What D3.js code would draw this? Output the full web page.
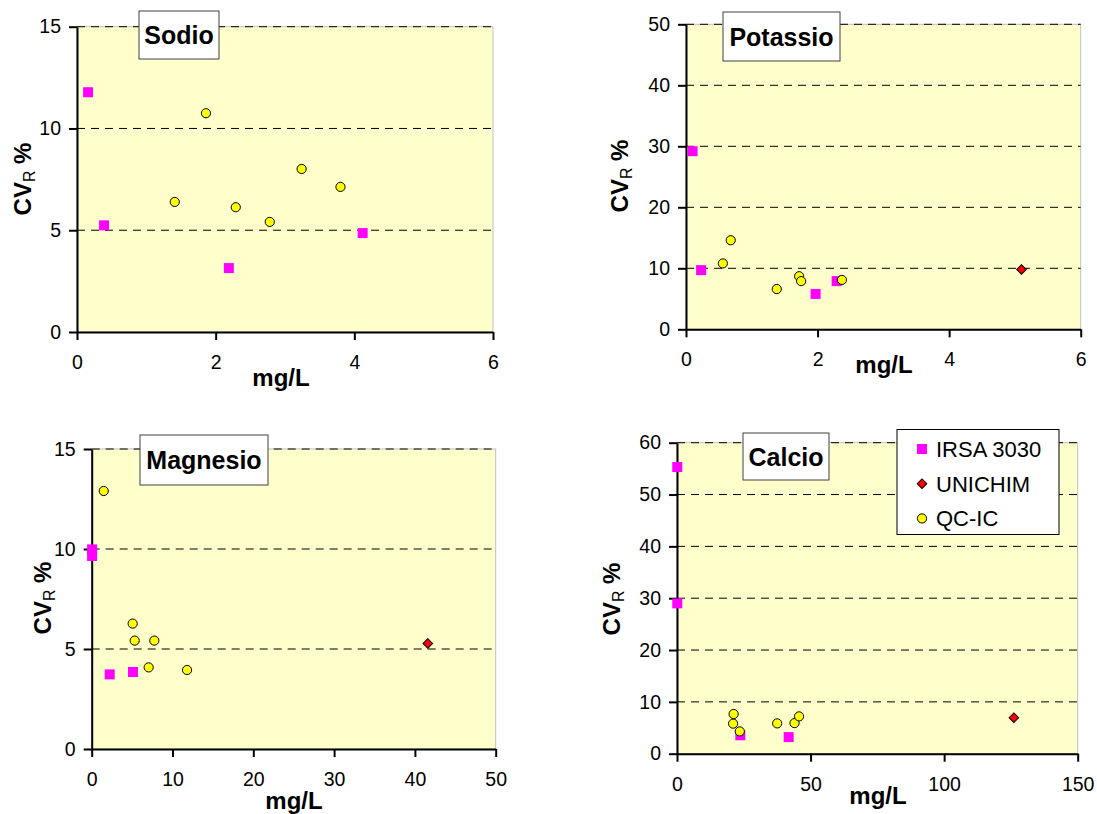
<!DOCTYPE html>
<html>
<head>
<meta charset="utf-8">
<script src="https://cdn.jsdelivr.net/npm/d3@7/dist/d3.min.js"></script>
<style>
  body { margin: 0; background: #fff; }
  svg { font-family: Arial, "Liberation Sans", sans-serif; }
  .axis path, .axis line { stroke: #000; stroke-width: 2px; }
  .axis text { font-size: 19.5px; fill: #000; }
  .grid { stroke: #000; stroke-width: 1px; stroke-dasharray: 8,6; }
</style>
</head>
<body>
<div id="chart"></div>
<script>
// titles of the four panels
var elements = ["Sodio", "Potassio", "Magnesio", "Calcio"];
var series = ["IRSA 3030", "UNICHIM", "QC-IC"];

// tick labels
var sodioXTicks = [0, 2, 4, 6], sodioYTicks = [0, 5, 10, 15];
var potassioXTicks = [0, 2, 4, 6], potassioYTicks = [0, 10, 20, 30, 40, 50];
var magnesioXTicks = [0, 10, 20, 30, 40, 50], magnesioYTicks = [0, 5, 10, 15];
var calcioXTicks = [0, 50, 100, 150], calcioYTicks = [0, 10, 20, 30, 40, 50, 60];

// [mg/L, CVR %]
var sodioIrsa = [[0.16, 11.78], [0.39, 5.24], [2.19, 3.14], [4.12, 4.86]];
var sodioUnichim = [];
var sodioQc = [[1.41, 6.39], [1.86, 10.75], [2.29, 6.13], [2.78, 5.41], [3.24, 8.01], [3.80, 7.13]];

var potassioIrsa = [[0.10, 29.2], [0.23, 9.7], [1.97, 5.8], [2.29, 7.9]];
var potassioUnichim = [[5.10, 9.8]];
var potassioQc = [[0.56, 10.8], [0.68, 14.6], [1.38, 6.6], [1.72, 8.7], [1.75, 7.9], [2.37, 8.1]];

var magnesioIrsa = [[0.05, 9.98], [0.05, 9.65], [2.23, 3.73], [5.11, 3.85]];
var magnesioUnichim = [[41.6, 5.28]];
var magnesioQc = [[1.49, 12.9], [5.07, 6.27], [5.32, 5.42], [7.75, 5.42], [7.05, 4.08], [11.8, 3.95]];

var calcioIrsa = [[0.1, 55.3], [0.1, 29.0], [23.7, 3.55], [41.8, 3.2]];
var calcioUnichim = [[126.1, 6.95]];
var calcioQc = [[21.2, 7.66], [21.0, 5.8], [23.5, 4.3], [37.5, 5.85], [44.0, 5.9], [45.7, 7.2]];

var W = 1097, H = 814;

var panels = [
  {title: elements[0], xTicks: sodioXTicks, yTicks: sodioYTicks,
   data: [sodioIrsa, sodioUnichim, sodioQc],
   box: {l: 77, r: 493, t: 26.7, b: 332}, tbox: {x: 139, y: 11, w: 80, h: 48},
   ylab: {x: 22, y: 179}, xlab: {x: 281, y: 386}},
  {title: elements[1], xTicks: potassioXTicks, yTicks: potassioYTicks,
   data: [potassioIrsa, potassioUnichim, potassioQc],
   box: {l: 686, r: 1080.7, t: 24.3, b: 329.3}, tbox: {x: 723, y: 12, w: 117, h: 49},
   ylab: {x: 619, y: 176}, xlab: {x: 884, y: 373}},
  {title: elements[2], xTicks: magnesioXTicks, yTicks: magnesioYTicks,
   data: [magnesioIrsa, magnesioUnichim, magnesioQc],
   box: {l: 91.7, r: 495.7, t: 449, b: 749}, tbox: {x: 140, y: 435, w: 128, h: 50},
   ylab: {x: 42, y: 598}, xlab: {x: 294, y: 809}},
  {title: elements[3], xTicks: calcioXTicks, yTicks: calcioYTicks,
   data: [calcioIrsa, calcioUnichim, calcioQc],
   box: {l: 677, r: 1077.7, t: 442.7, b: 753.7}, tbox: {x: 743, y: 433, w: 86, h: 47},
   ylab: {x: 611, y: 599}, xlab: {x: 878, y: 804}}
];

var svg = d3.select("#chart").append("svg")
    .attr("width", W)
    .attr("height", H);

var sq = d3.symbol().type(d3.symbolSquare).size(100);
var dia = d3.symbol().type(d3.symbolSquare).size(46);

function drawMarker(g, k, px, py) {
  if (k === 0) {
    g.append("path").attr("d", sq).attr("transform", "translate(" + px + "," + py + ")")
      .attr("fill", "#ff00ff");
  } else if (k === 1) {
    g.append("path").attr("d", dia).attr("transform", "translate(" + px + "," + py + ") rotate(45)")
      .attr("fill", "#ff0000").attr("stroke", "#000").attr("stroke-width", 1);
  } else {
    g.append("circle").attr("cx", px).attr("cy", py).attr("r", 4.6)
      .attr("fill", "#ffff00").attr("stroke", "#000").attr("stroke-width", 1);
  }
}

panels.forEach(function(p) {
  var x = d3.scaleLinear()
      .domain([p.xTicks[0], p.xTicks[p.xTicks.length - 1]])
      .range([p.box.l, p.box.r]);
  var y = d3.scaleLinear()
      .domain([p.yTicks[0], p.yTicks[p.yTicks.length - 1]])
      .range([p.box.b, p.box.t]);

  var g = svg.append("g");

  // plot area
  g.append("rect")
      .attr("x", p.box.l).attr("y", p.box.t)
      .attr("width", p.box.r - p.box.l).attr("height", p.box.b - p.box.t)
      .attr("fill", "#ffffcc").attr("stroke", "#c0c0c0").attr("stroke-width", 1);

  // dashed gridlines
  g.selectAll(".grid")
      .data(p.yTicks.filter(function(d) { return d > 0; }))
    .enter().append("line")
      .attr("class", "grid")
      .attr("x1", p.box.l).attr("x2", p.box.r)
      .attr("y1", function(d) { return y(d); })
      .attr("y2", function(d) { return y(d); });

  // axes
  g.append("g").attr("class", "axis")
      .attr("transform", "translate(0," + p.box.b + ")")
      .call(d3.axisBottom(x).tickValues(p.xTicks).tickFormat(d3.format("d"))
        .tickSize(8).tickPadding(15).tickSizeOuter(0));
  g.append("g").attr("class", "axis")
      .attr("transform", "translate(" + p.box.l + ",0)")
      .call(d3.axisLeft(y).tickValues(p.yTicks).tickFormat(d3.format("d"))
        .tickSize(8).tickPadding(8).tickSizeOuter(0));

  // markers
  p.data.forEach(function(pts, k) {
    pts.forEach(function(d) { drawMarker(g, k, x(d[0]), y(d[1])); });
  });

  // title box
  g.append("rect")
      .attr("x", p.tbox.x).attr("y", p.tbox.y)
      .attr("width", p.tbox.w).attr("height", p.tbox.h)
      .attr("fill", "#fff").attr("stroke", "#404040").attr("stroke-width", 1);
  g.append("text")
      .attr("x", p.tbox.x + p.tbox.w / 2).attr("y", p.tbox.y + p.tbox.h / 2 + 9)
      .attr("text-anchor", "middle")
      .attr("font-size", "25px").attr("font-weight", "bold")
      .text(p.title);

  // axis titles
  var yl = g.append("text")
      .attr("transform", "translate(" + (p.ylab.x + 9) + "," + p.ylab.y + ") rotate(-90)")
      .attr("text-anchor", "middle")
      .attr("font-size", "24px").attr("font-weight", "bold");
  yl.append("tspan").text("CV");
  yl.append("tspan").attr("font-size", "16px").attr("font-weight", "normal").attr("dy", 4).text("R");
  yl.append("tspan").attr("dy", -4).text(" %");

  g.append("text")
      .attr("x", p.xlab.x).attr("y", p.xlab.y)
      .attr("text-anchor", "middle")
      .attr("font-size", "24px").attr("font-weight", "bold")
      .text("mg/L");
});

// legend (in Calcio panel)
var lg = svg.append("g");
lg.append("rect")
    .attr("x", 897).attr("y", 429.5).attr("width", 162).attr("height", 105)
    .attr("fill", "#fff").attr("stroke", "#000").attr("stroke-width", 1);
series.forEach(function(s, i) {
  var cy = 449 + i * 34.7;
  drawMarker(lg, i, 922, cy);
  lg.append("text")
      .attr("x", 936).attr("y", cy + 8)
      .attr("font-size", "22px")
      .text(s);
});
</script>
</body>
</html>
